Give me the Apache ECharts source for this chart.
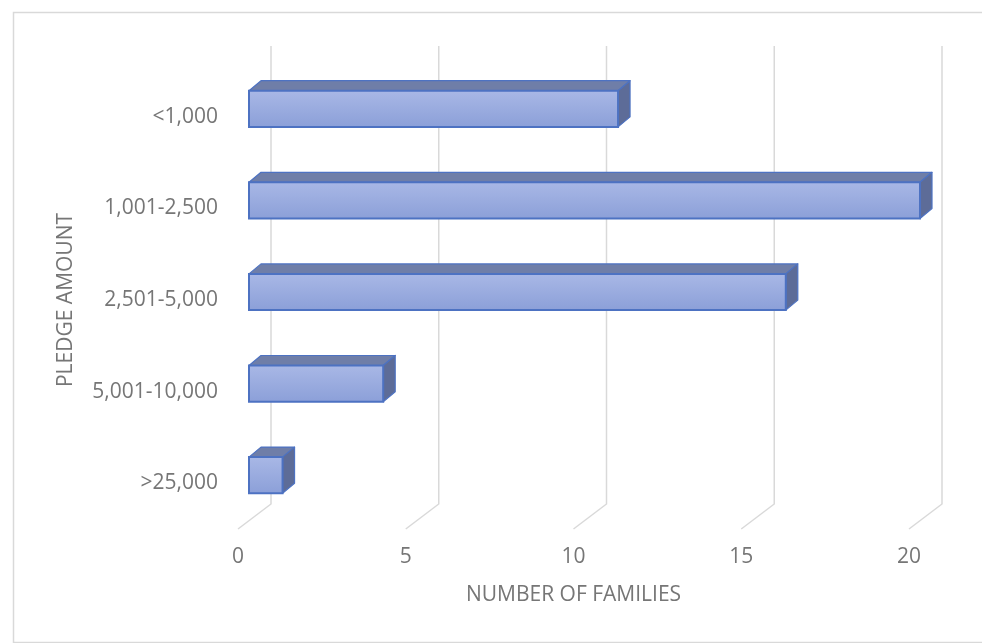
<!DOCTYPE html>
<html>
<head>
<meta charset="utf-8">
<script src="https://cdn.jsdelivr.net/npm/echarts@6/dist/echarts.min.js"></script>
<style>
html,body{margin:0;padding:0;background:#fff;}
#chart{width:982px;height:643px;}
</style>
</head>
<body>
<div id="chart"></div>
<script>
const categories = ['<1,000', '1,001-2,500', '2,501-5,000', '5,001-10,000', '>25,000'];
const families = [11, 20, 16, 4, 1];
const xTicks = [0, 5, 10, 15, 20];

const FONT = '"Open Sans", "Noto Sans", sans-serif';
const TXT = '#767676';
// perspective offsets (pixels)
const FLOOR_DX = 33, FLOOR_DY = -25;   // full depth of floor
const BAR_FX = 11, BAR_FY = -8;        // bar front plane offset from floor front
const BAR_DX = 12, BAR_DY = -10;       // bar depth

const chart = echarts.init(document.getElementById('chart'));

function renderGrid(params, api) {
  const cs = params.coordSys;
  const x = api.coord([api.value(0), 0])[0];
  const yb = cs.y + cs.height;
  const yt = cs.y;
  return {
    type: 'polyline',
    shape: { points: [[x, yb], [x + FLOOR_DX, yb + FLOOR_DY], [x + FLOOR_DX, yt + FLOOR_DY]] },
    style: { stroke: '#d9d9d9', lineWidth: 1.5, fill: null },
    silent: true
  };
}

function renderBar(params, api) {
  const v = api.value(0);
  const c = api.value(1);
  const p0 = api.coord([0, c]);
  const p1 = api.coord([v, c]);
  const band = api.size([0, 1])[1];
  const h = band * 0.395;
  const x0 = p0[0] + BAR_FX, x1 = p1[0] + BAR_FX;
  const yc = p0[1] + BAR_FY;
  const top = yc - h / 2, bot = yc + h / 2;
  const edge = '#4d72c2';
  return {
    type: 'group',
    children: [
      {
        type: 'polygon',
        shape: { points: [[x0, top], [x1, top], [x1 + BAR_DX, top + BAR_DY], [x0 + BAR_DX, top + BAR_DY]] },
        style: { fill: '#6f7ea8', stroke: edge, lineWidth: 1.2, lineJoin: 'round' }
      },
      {
        type: 'polygon',
        shape: { points: [[x1, top], [x1 + BAR_DX, top + BAR_DY], [x1 + BAR_DX, bot + BAR_DY], [x1, bot]] },
        style: { fill: '#5d6c98', stroke: edge, lineWidth: 1.2, lineJoin: 'round' }
      },
      {
        type: 'rect',
        shape: { x: x0, y: top, width: x1 - x0, height: h },
        style: {
          fill: new echarts.graphic.LinearGradient(0, 0, 0, 1, [
            { offset: 0, color: '#a9b8e6' },
            { offset: 1, color: '#8b9fd8' }
          ]),
          stroke: edge, lineWidth: 2
        }
      }
    ]
  };
}

chart.setOption({
  backgroundColor: '#ffffff',
  animation: false,
  graphic: [{
    type: 'rect', left: 11, top: 10, silent: true,
    shape: { width: 1000, height: 630 },
    style: { fill: null, stroke: '#d9d9d9', lineWidth: 1.5 }
  }],
  grid: { left: 238, top: 71, width: 671, height: 458, containLabel: false },
  xAxis: {
    type: 'value', min: 0, max: 20, interval: 5,
    axisLine: { show: false }, axisTick: { show: false },
    splitLine: { show: false },
    axisLabel: { color: TXT, fontFamily: FONT, fontSize: 21, margin: 18 },
    name: 'NUMBER OF FAMILIES', nameLocation: 'middle', nameGap: 56,
    nameTextStyle: { color: TXT, fontFamily: FONT, fontSize: 21 }
  },
  yAxis: {
    type: 'category', data: categories, inverse: true,
    axisLine: { show: false }, axisTick: { show: false },
    splitLine: { show: false },
    axisLabel: { color: TXT, fontFamily: FONT, fontSize: 21, margin: 20 },
    name: 'PLEDGE AMOUNT', nameLocation: 'middle', nameGap: 161, nameRotate: 90,
    nameTextStyle: { color: TXT, fontFamily: FONT, fontSize: 21 }
  },
  series: [
    {
      type: 'custom', name: 'grid', z: 1, silent: true,
      renderItem: renderGrid,
      data: xTicks.map(t => [t, 0]),
      encode: { x: 0, y: 1 }
    },
    {
      type: 'custom', name: 'Families', z: 2,
      renderItem: renderBar,
      data: families.map((v, i) => [v, i]),
      encode: { x: 0, y: 1 }
    }
  ]
});
</script>
</body>
</html>
